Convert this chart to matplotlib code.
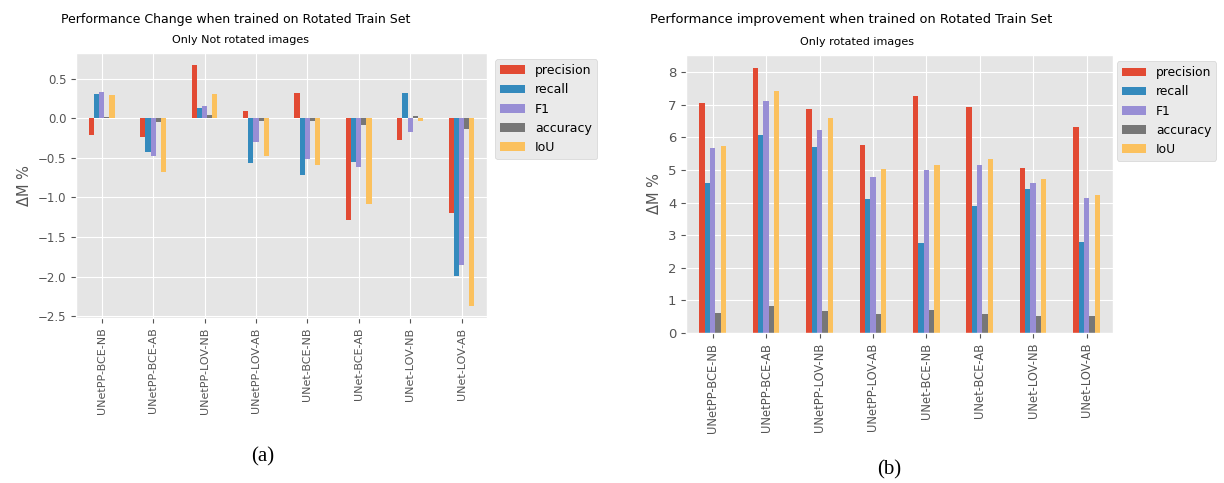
import numpy as np
import matplotlib
matplotlib.use("Agg")
import matplotlib.pyplot as plt

plt.style.use("ggplot")

models = ["UNetPP-BCE-NB", "UNetPP-BCE-AB", "UNetPP-LOV-NB", "UNetPP-LOV-AB",
          "UNet-BCE-NB", "UNet-BCE-AB", "UNet-LOV-NB", "UNet-LOV-AB"]
metrics = ["precision", "recall", "F1", "accuracy", "IoU"]

# (a) only not rotated images
a_precision = [-0.21, -0.23, 0.675, 0.09, 0.32, -1.29, -0.27, -1.19]
a_recall = [0.31, -0.42, 0.13, -0.57, -0.71, -0.55, 0.32, -1.99]
a_f1 = [0.33, -0.48, 0.155, -0.30, -0.52, -0.62, -0.17, -1.85]
a_accuracy = [0.02, -0.05, 0.04, -0.03, -0.03, -0.08, 0.035, -0.14]
a_iou = [0.29, -0.68, 0.31, -0.48, -0.59, -1.08, -0.04, -2.37]

# (b) only rotated images
b_precision = [7.06, 8.12, 6.87, 5.77, 7.27, 6.92, 5.07, 6.32]
b_recall = [4.61, 6.06, 5.70, 4.12, 2.77, 3.89, 4.41, 2.79]
b_f1 = [5.67, 7.12, 6.24, 4.79, 4.99, 5.14, 4.59, 4.13]
b_accuracy = [0.61, 0.83, 0.66, 0.59, 0.72, 0.59, 0.53, 0.53]
b_iou = [5.73, 7.41, 6.58, 5.03, 5.14, 5.33, 4.71, 4.24]

colors = ["#E24A33", "#348ABD", "#988ED5", "#777777", "#FBC15E"]


def bar_panel(ax, series, xfs, yfs, lfs, pad):
    x = np.arange(len(models))
    w = 0.5 / len(series)
    for i, (vals, name) in enumerate(zip(series, metrics)):
        ax.bar(x - 0.25 + w / 2 + i * w, vals, w, color=colors[i], label=name)
    ax.set_xlim(-0.5, len(models) - 0.5)
    ax.set_xticks(x)
    ax.set_xticklabels(models, rotation=90, fontsize=xfs)
    ax.tick_params(axis="y", labelsize=yfs)
    ax.set_ylabel("ΔM %", fontsize=10.5)
    ax.margins(y=0.05)
    ax.legend(loc="upper left", bbox_to_anchor=(pad, 0.99), fontsize=lfs,
              borderaxespad=0.3)


fig = plt.figure(figsize=(12.24, 4.83), dpi=100)
fig.patch.set_facecolor("white")

ax1 = fig.add_axes([0.0621, 0.3416, 0.336, 0.549])
bar_panel(ax1, [a_precision, a_recall, a_f1, a_accuracy, a_iou], 8, 8.5, 9, 1.01)
ax2 = fig.add_axes([0.5605, 0.3106, 0.349, 0.5756])
bar_panel(ax2, [b_precision, b_recall, b_f1, b_accuracy, b_iou], 8.3, 9.5, 8.8, 1.0)
ax2.set_yticks(range(0, 9))

fig.text(236 / 1224, 1 - 20 / 483, "Performance Change when trained on Rotated Train Set",
         ha="center", va="center", fontsize=9)
fig.text(241 / 1224, 1 - 40 / 483, "Only Not rotated images",
         ha="center", va="center", fontsize=8)
fig.text(851 / 1224, 1 - 20 / 483, "Performance improvement when trained on Rotated Train Set",
         ha="center", va="center", fontsize=9.4)
fig.text(857 / 1224, 1 - 42 / 483, "Only rotated images",
         ha="center", va="center", fontsize=8)

fig.text(263 / 1224, 1 - 457 / 483, "(a)", ha="center", va="center",
         fontsize=15, family="Liberation Serif")
fig.text(889 / 1224, 1 - 470 / 483, "(b)", ha="center", va="center",
         fontsize=15, family="Liberation Serif")

fig.savefig("out.png", dpi=100)
